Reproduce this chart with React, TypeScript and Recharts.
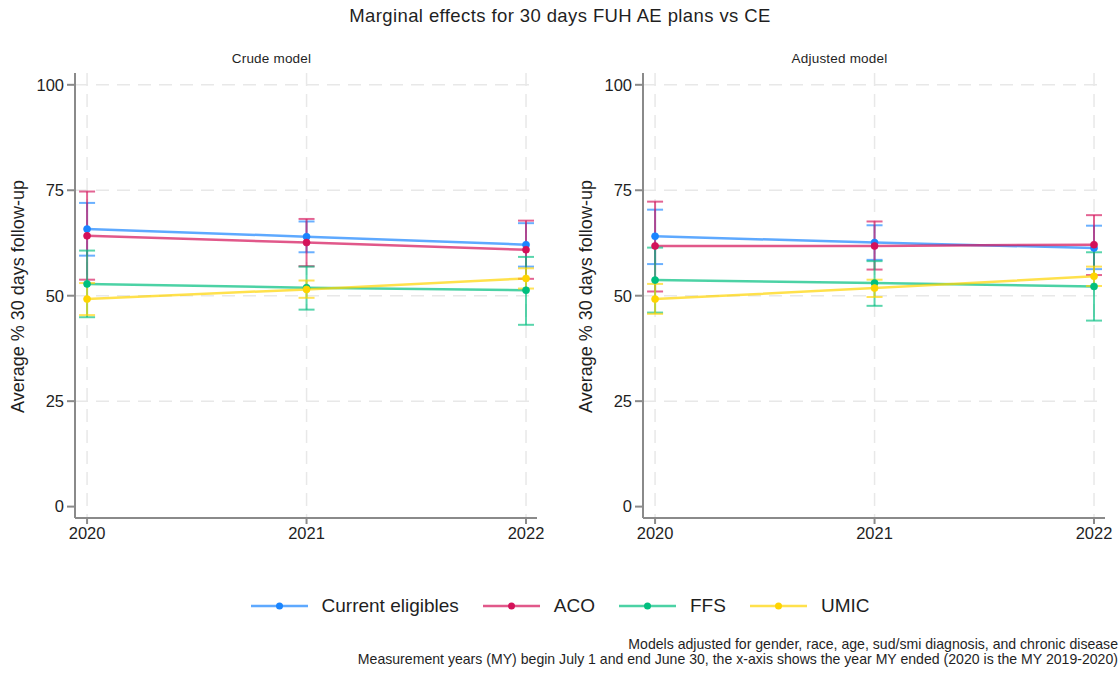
import React from "react";
import { LineChart, Line, XAxis, YAxis, CartesianGrid, ErrorBar } from "recharts";

// x values (measurement year ended)
const years = [2020, 2021, 2022];
const yTicks = [0, 25, 50, 75, 100];
const gridY = [25, 50, 75, 100];

// Crude model: point estimates and 95% CI bounds
const crudeCE = [65.8, 64.0, 62.1];
const crudeCELo = [59.5, 60.3, 56.9];
const crudeCEHi = [72.0, 67.6, 67.2];
const crudeACO = [64.2, 62.6, 60.9];
const crudeACOLo = [53.8, 57.0, 54.0];
const crudeACOHi = [74.7, 68.2, 67.8];
const crudeFFS = [52.8, 51.9, 51.3];
const crudeFFSLo = [44.9, 46.7, 43.1];
const crudeFFSHi = [60.7, 56.9, 59.2];
const crudeUMIC = [49.2, 51.5, 54.1];
const crudeUMICLo = [45.4, 49.5, 51.7];
const crudeUMICHi = [53.0, 53.6, 56.5];

// Adjusted model
const adjCE = [64.1, 62.6, 61.3];
const adjCELo = [57.5, 58.5, 56.3];
const adjCEHi = [70.4, 66.7, 66.6];
const adjACO = [61.8, 61.8, 62.1];
const adjACOLo = [51.0, 56.2, 54.9];
const adjACOHi = [72.3, 67.6, 69.1];
const adjFFS = [53.7, 53.0, 52.2];
const adjFFSLo = [46.0, 47.6, 44.1];
const adjFFSHi = [61.4, 58.2, 60.3];
const adjUMIC = [49.2, 51.8, 54.6];
const adjUMICLo = [45.7, 49.7, 52.3];
const adjUMICHi = [52.8, 53.8, 56.9];

const seriesNames = ["Current eligibles", "ACO", "FFS", "UMIC"];
const seriesKeys = ["ce", "aco", "ffs", "umic"];
const seriesColors = ["#1a85ff", "#d41159", "#00bf7f", "#ffd400"];

const FONT = "'Liberation Sans', Arial, sans-serif";

function buildRows(vals: number[][], lows: number[][], highs: number[][]) {
  return years.map((yr, i) => {
    const row: Record<string, any> = { year: yr };
    seriesKeys.forEach((k, s) => {
      const v = vals[s][i];
      row[k] = v;
      row[k + "Err"] = [v - lows[s][i], highs[s][i] - v];
    });
    return row;
  });
}

const crudeRows = buildRows(
  [crudeCE, crudeACO, crudeFFS, crudeUMIC],
  [crudeCELo, crudeACOLo, crudeFFSLo, crudeUMICLo],
  [crudeCEHi, crudeACOHi, crudeFFSHi, crudeUMICHi]
);
const adjRows = buildRows(
  [adjCE, adjACO, adjFFS, adjUMIC],
  [adjCELo, adjACOLo, adjFFSLo, adjUMICLo],
  [adjCEHi, adjACOHi, adjFFSHi, adjUMICHi]
);

function Panel({ rows, width, right }: { rows: any[]; width: number; right: number }) {
  const tick = { fill: "#1f1f1f", fontSize: 16.5, fontFamily: FONT };
  return (
    <LineChart width={width} height={560} data={rows} margin={{ top: 73, right, bottom: 12, left: 0 }}>
      <CartesianGrid
        horizontalValues={gridY}
        verticalValues={years}
        stroke="#e8e8e8"
        strokeWidth={1.5}
        strokeDasharray="13 8"
      />
      <XAxis
        type="number"
        dataKey="year"
        domain={[2019.945, 2022.05]}
        allowDataOverflow
        ticks={years}
        tick={tick}
        tickSize={6}
        tickMargin={3}
        height={30}
        stroke="#8a8a8a"
        strokeWidth={2}
      />
      <YAxis
        type="number"
        domain={[-2.7, 102.8]}
        allowDataOverflow
        ticks={yTicks}
        tick={tick}
        tickSize={8}
        tickMargin={3}
        width={75}
        stroke="#8a8a8a"
        strokeWidth={2}
      />
      {seriesKeys.map((k, s) => (
        <Line
          key={k}
          dataKey={k}
          stroke={seriesColors[s]}
          strokeOpacity={0.7}
          strokeWidth={2.5}
          dot={{ r: 3.5, fill: seriesColors[s], stroke: seriesColors[s], strokeWidth: 1 }}
          isAnimationActive={false}
        >
          <ErrorBar
            dataKey={k + "Err"}
            direction="y"
            width={8}
            stroke={seriesColors[s]}
            strokeOpacity={0.65}
            strokeWidth={2}
            isAnimationActive={false}
          />
        </Line>
      ))}
    </LineChart>
  );
}

function YTitle({ left }: { left: number }) {
  return (
    <div
      style={{
        position: "absolute",
        left: left - 150,
        top: 286,
        width: 300,
        textAlign: "center",
        transform: "rotate(-90deg)",
        fontSize: 18,
        color: "#1f1f1f",
        fontFamily: FONT,
        whiteSpace: "nowrap",
      }}
    >
      Average % 30 days follow-up
    </div>
  );
}

export default function App() {
  return (
    <div
      style={{
        position: "absolute",
        left: 0,
        top: 0,
        width: 1120,
        height: 675,
        background: "#fff",
        fontFamily: FONT,
        overflow: "hidden",
      }}
    >
      <div style={{ position: "absolute", top: 5, left: 0, width: 1120, textAlign: "center", fontSize: 18.5, letterSpacing: 0.4, color: "#1f1f1f" }}>
        Marginal effects for 30 days FUH AE plans vs CE
      </div>
      <div style={{ position: "absolute", top: 51, left: 0, width: 543, textAlign: "center", fontSize: 13.5, letterSpacing: 0.2, color: "#1f1f1f" }}>
        Crude model
      </div>
      <div style={{ position: "absolute", top: 51, left: 568, width: 543, textAlign: "center", fontSize: 13.5, letterSpacing: 0.2, color: "#1f1f1f" }}>
        Adjusted model
      </div>
      <YTitle left={18} />
      <YTitle left={586} />
      <div style={{ position: "absolute", left: 0, top: 0 }}>
        <Panel rows={crudeRows} width={560} right={23} />
      </div>
      <div style={{ position: "absolute", left: 568, top: 0 }}>
        <Panel rows={adjRows} width={552} right={15} />
      </div>
      <div
        style={{
          position: "absolute",
          top: 595,
          left: 0,
          width: 1120,
          display: "flex",
          justifyContent: "center",
          alignItems: "center",
          fontSize: 19,
          color: "#1f1f1f",
        }}
      >
        {seriesNames.map((n, s) => (
          <div key={n} style={{ display: "flex", alignItems: "center", marginRight: s < 3 ? 24 : 0 }}>
            <svg width={57} height={12} style={{ marginRight: 14 }}>
              <line x1={0} y1={6} x2={57} y2={6} stroke={seriesColors[s]} strokeOpacity={0.7} strokeWidth={2.5} />
              <circle cx={28.5} cy={6} r={3.5} fill={seriesColors[s]} />
            </svg>
            <span>{n}</span>
          </div>
        ))}
      </div>
      <div
        style={{
          position: "absolute",
          top: 637,
          right: 2,
          textAlign: "right",
          fontSize: 14.1,
          lineHeight: "15px",
          color: "#1f1f1f",
          whiteSpace: "nowrap",
        }}
      >
        Models adjusted for gender, race, age, sud/smi diagnosis, and chronic disease
        <br />
        Measurement years (MY) begin July 1 and end June 30, the x-axis shows the year MY ended (2020 is the MY 2019-2020)
      </div>
    </div>
  );
}
